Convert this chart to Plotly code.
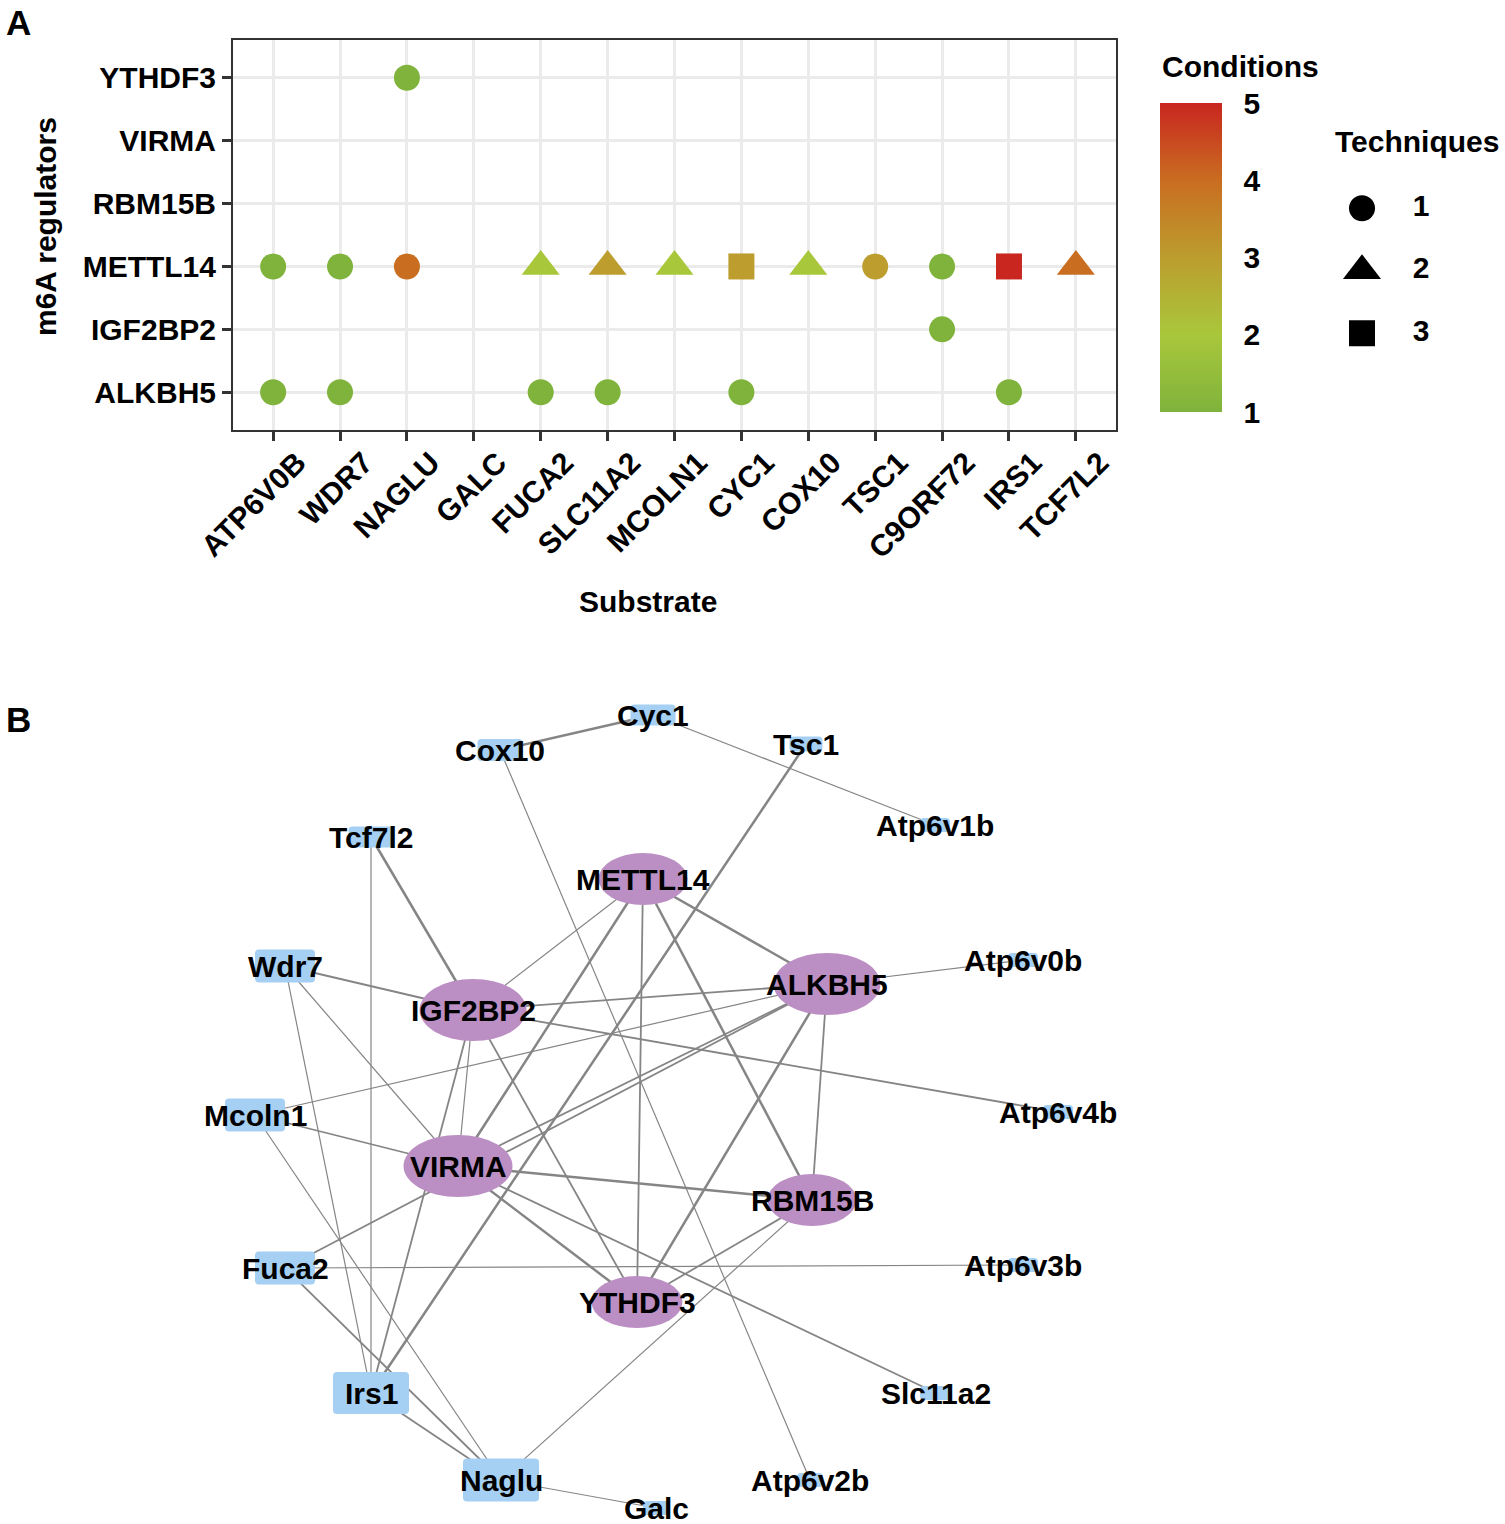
import plotly.graph_objects as go

W, H = 1505, 1524

# ---------------- Panel A data ----------------
substrates = ["ATP6V0B", "WDR7", "NAGLU", "GALC", "FUCA2", "SLC11A2", "MCOLN1",
              "CYC1", "COX10", "TSC1", "C9ORF72", "IRS1", "TCF7L2"]
regulators = ["ALKBH5", "IGF2BP2", "METTL14", "RBM15B", "VIRMA", "YTHDF3"]

pt_substrate = ["NAGLU",
                "ATP6V0B", "WDR7", "NAGLU", "FUCA2", "SLC11A2", "MCOLN1", "CYC1",
                "COX10", "TSC1", "C9ORF72", "IRS1", "TCF7L2",
                "C9ORF72",
                "ATP6V0B", "WDR7", "FUCA2", "SLC11A2", "CYC1", "IRS1"]
pt_regulator = ["YTHDF3"] + ["METTL14"] * 12 + ["IGF2BP2"] + ["ALKBH5"] * 6
pt_conditions = [1,
                 1, 1, 4, 2, 3, 2, 3, 2, 3, 1, 5, 4,
                 1,
                 1, 1, 1, 1, 1, 1]
pt_techniques = [1,
                 1, 1, 1, 2, 2, 2, 3, 2, 1, 1, 3, 2,
                 1,
                 1, 1, 1, 1, 1, 1]
technique_levels = [1, 2, 3]
condition_ticks = [1, 2, 3, 4, 5]

# ---------------- Panel B data ----------------
node_names = ["METTL14", "IGF2BP2", "ALKBH5", "VIRMA", "RBM15B", "YTHDF3",
              "Cyc1", "Cox10", "Tsc1", "Atp6v1b", "Tcf7l2", "Wdr7", "Atp6v0b",
              "Mcoln1", "Atp6v4b", "Fuca2", "Atp6v3b", "Irs1", "Slc11a2",
              "Naglu", "Atp6v2b", "Galc"]
node_type = ["reg"] * 6 + ["sub"] * 16
node_x = [643, 473, 827, 458, 812, 637,
          653, 500, 806, 935, 371, 285, 1023,
          255, 1058, 285, 1023, 371, 936,
          501, 810, 656]
node_y = [879, 1010, 984, 1166, 1200, 1302,
          715, 750, 744, 825, 837, 966, 960,
          1115, 1112, 1268, 1265, 1393, 1393,
          1480, 1480, 1508]
node_w = [89, 107, 107, 109, 89, 91,
          45, 45, 33, 30, 45, 60, 30,
          60, 30, 60, 30, 76, 32,
          76, 26, 26]
node_h = [52, 62, 62, 62, 52, 52,
          21, 22, 15, 14, 21, 33, 14,
          33, 14, 33, 14, 42, 14,
          43, 14, 14]

edge_src = ["Cox10", "Cyc1", "Tsc1", "Cox10", "Tcf7l2", "Tcf7l2", "Wdr7", "Wdr7",
            "Wdr7", "Mcoln1", "Mcoln1", "Mcoln1", "Fuca2", "Fuca2", "Fuca2", "Irs1",
            "Naglu", "Naglu", "METTL14", "METTL14", "METTL14", "METTL14", "METTL14",
            "IGF2BP2", "IGF2BP2", "IGF2BP2", "IGF2BP2", "IGF2BP2", "VIRMA", "VIRMA",
            "VIRMA", "VIRMA", "YTHDF3", "YTHDF3", "RBM15B", "ALKBH5"]
edge_dst = ["Cyc1", "Atp6v1b", "Irs1", "Atp6v2b", "Irs1", "IGF2BP2", "IGF2BP2", "Irs1",
            "VIRMA", "ALKBH5", "VIRMA", "Naglu", "ALKBH5", "Atp6v3b", "Naglu", "Naglu",
            "Galc", "RBM15B", "IGF2BP2", "VIRMA", "YTHDF3", "RBM15B", "ALKBH5",
            "ALKBH5", "Atp6v4b", "VIRMA", "Irs1", "YTHDF3", "RBM15B", "YTHDF3",
            "Slc11a2", "ALKBH5", "ALKBH5", "RBM15B", "ALKBH5", "Atp6v0b"]
edge_weight = [3, 1, 3, 1, 1, 3, 2, 1,
               1, 1, 2, 1, 2, 1, 2, 2,
               1, 1, 1, 3, 2, 3, 3,
               2, 2, 1, 2, 2, 3, 3,
               2, 2, 3, 2, 2, 1]

# ---------------- styles ----------------
FONT = "Arial, Liberation Sans, sans-serif"
FS = 30
colorscale = [[0.0, "#7fb33c"], [0.25, "#a9c73b"], [0.5, "#bc9d2e"],
              [0.75, "#c96d21"], [1.0, "#c8261f"]]
symbol_of = {1: "circle", 2: "triangle-up", 3: "square"}
size_of = {1: 26, 2: 33, 3: 26}
width_of = {1: 1.2, 2: 1.8, 3: 2.5}
REG_COLOR = "#bb8fc3"
SUB_COLOR = "#a5d0f3"
EDGE_COLOR = "#858585"


def px(x):
    return x / W


def py(y):
    return 1 - y / H


fig = go.Figure()

# Panel A scatter
for t in technique_levels:
    idx = [i for i, v in enumerate(pt_techniques) if v == t]
    fig.add_trace(go.Scatter(
        x=[pt_substrate[i] for i in idx],
        y=[pt_regulator[i] for i in idx],
        mode="markers",
        marker=dict(symbol=symbol_of[t], size=size_of[t],
                    color=[pt_conditions[i] for i in idx],
                    coloraxis="coloraxis", line=dict(width=0)),
        showlegend=False, xaxis="x", yaxis="y",
        hoverinfo="x+y",
    ))

# Techniques legend (hidden axes)
fig.add_trace(go.Scatter(
    x=[0] * len(technique_levels), y=technique_levels, mode="markers",
    marker=dict(symbol=[symbol_of[t] for t in technique_levels],
                size=[size_of[t] for t in technique_levels], color="black",
                opacity=1, line=dict(width=0)),
    showlegend=False, xaxis="x3", yaxis="y3", hoverinfo="skip"))
fig.add_trace(go.Scatter(
    x=[1] * len(technique_levels), y=technique_levels, mode="text",
    text=[str(t) for t in technique_levels],
    textfont=dict(family=FONT, size=FS, color="black", weight="bold"),
    showlegend=False, xaxis="x3", yaxis="y3", hoverinfo="skip"))

# Panel B edges
pos = {n: (x, y) for n, x, y in zip(node_names, node_x, node_y)}
for w in sorted(set(edge_weight)):
    ex, ey = [], []
    for s, d, ww in zip(edge_src, edge_dst, edge_weight):
        if ww == w:
            ex += [pos[s][0], pos[d][0], None]
            ey += [pos[s][1], pos[d][1], None]
    fig.add_trace(go.Scatter(x=ex, y=ey, mode="lines",
                             line=dict(color=EDGE_COLOR, width=width_of[w]),
                             showlegend=False, xaxis="x2", yaxis="y2",
                             hoverinfo="skip"))


def rounded_rect(cx, cy, w, h, r):
    x0, x1, y0, y1 = cx - w / 2, cx + w / 2, cy - h / 2, cy + h / 2
    r = min(r, w / 2, h / 2)
    return (f"M {x0 + r},{y0} L {x1 - r},{y0} Q {x1},{y0} {x1},{y0 + r} "
            f"L {x1},{y1 - r} Q {x1},{y1} {x1 - r},{y1} L {x0 + r},{y1} "
            f"Q {x0},{y1} {x0},{y1 - r} L {x0},{y0 + r} Q {x0},{y0} {x0 + r},{y0} Z")


shapes = []
annotations = []
for n, t, x, y, w, h in zip(node_names, node_type, node_x, node_y, node_w, node_h):
    if t == "reg":
        shapes.append(dict(type="circle", xref="x2", yref="y2",
                           x0=x - w / 2, x1=x + w / 2, y0=y - h / 2, y1=y + h / 2,
                           fillcolor=REG_COLOR, line=dict(width=0), layer="above"))
    else:
        shapes.append(dict(type="path", xref="x2", yref="y2",
                           path=rounded_rect(x, y, w, h, 4),
                           fillcolor=SUB_COLOR, line=dict(width=0), layer="above"))
    annotations.append(dict(x=x, y=y, xref="x2", yref="y2", text=n, showarrow=False,
                            font=dict(family=FONT, size=FS, color="black", weight="bold"),
                            xanchor="center", yanchor="middle"))

# text annotations (titles / panel letters)
def ann(x, y, text, size=FS, angle=0, xanchor="center"):
    annotations.append(dict(x=px(x), y=py(y), xref="paper", yref="paper", text=text,
                            showarrow=False, textangle=angle, xanchor=xanchor,
                            yanchor="middle",
                            font=dict(family=FONT, size=size, color="black", weight="bold")))


ann(18, 22, "A", size=35)
ann(18, 719, "B", size=35)
ann(45, 227, "m6A regulators", angle=-90)
ann(648, 601, "Substrate")
ann(1240, 66, "Conditions")
ann(1417, 141, "Techniques")

fig.update_layout(
    width=W, height=H,
    margin=dict(l=0, r=0, t=0, b=0, pad=0, autoexpand=False),
    paper_bgcolor="white", plot_bgcolor="white",
    font=dict(family=FONT, color="black"),
    shapes=shapes, annotations=annotations,
    coloraxis=dict(
        cmin=1, cmax=5, colorscale=colorscale,
        colorbar=dict(
            x=px(1160), xanchor="left", y=py(257.5), yanchor="middle",
            len=309, lenmode="pixels", thickness=62, thicknessmode="pixels",
            outlinewidth=0, tickvals=condition_ticks,
            ticks="outside", ticklen=16, tickwidth=1, tickcolor="white",
            tickfont=dict(family=FONT, size=FS, color="black", weight="bold"),
            xpad=0, ypad=0,
        ),
    ),
    xaxis=dict(domain=[px(233), px(1116)], anchor="y",
               type="category", categoryorder="array", categoryarray=substrates,
               range=[-0.6, len(substrates) - 0.4],
               showgrid=True, gridcolor="#ebebeb", gridwidth=3,
               showline=True, linecolor="#333333", linewidth=2, mirror=True,
               ticks="outside", ticklen=9, tickwidth=3, tickcolor="#333333",
               tickangle=-45, automargin=False,
               ticklabelshift=24, ticklabelstandoff=-8,
               tickfont=dict(family=FONT, size=FS, color="black", weight="bold"),
               zeroline=False, fixedrange=True),
    yaxis=dict(domain=[py(430), py(40)], anchor="x",
               type="category", categoryorder="array", categoryarray=regulators,
               range=[-0.6, len(regulators) - 0.4], automargin=False,
               showgrid=True, gridcolor="#ebebeb", gridwidth=3,
               showline=True, linecolor="#333333", linewidth=2, mirror=True,
               ticks="outside", ticklen=9, tickwidth=3, tickcolor="#333333",
               tickfont=dict(family=FONT, size=FS, color="black", weight="bold"),
               zeroline=False, fixedrange=True),
    xaxis2=dict(domain=[0, 1], anchor="y2", range=[0, W], visible=False,
                fixedrange=True),
    yaxis2=dict(domain=[0, py(690)], anchor="x2", range=[H, 690], visible=False,
                fixedrange=True),
    xaxis3=dict(domain=[px(1332.5), px(1450.5)], anchor="y3", range=[-0.5, 1.5],
                visible=False, fixedrange=True),
    yaxis3=dict(domain=[py(364.5), py(177)], anchor="x3", range=[3.5, 0.5],
                visible=False, fixedrange=True),
)

fig.write_html("out.html", config={"displayModeBar": False},
               post_script="document.body.style.margin='0px';")
